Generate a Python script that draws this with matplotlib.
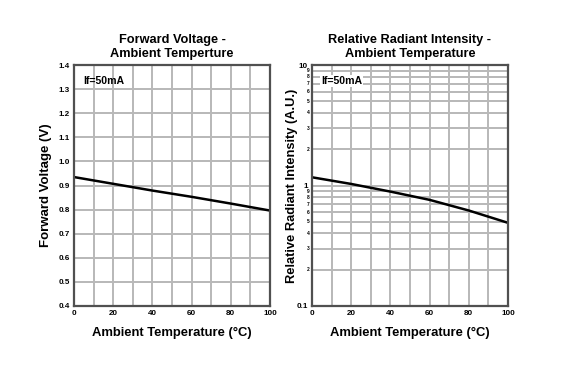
import numpy as np
import matplotlib
matplotlib.use("Agg")
import matplotlib.pyplot as plt
from matplotlib.ticker import FixedLocator, NullFormatter

plt.rcParams["font.family"] = ["Liberation Sans", "DejaVu Sans"]

# data
temp = [0, 20, 40, 60, 80, 100]
vf = [0.935, 0.907, 0.879, 0.853, 0.825, 0.796]
intensity = [1.17, 1.03, 0.89, 0.76, 0.62, 0.49]

GRID = "#b8b8b8"
FRAME = "#505050"


def style_axes(ax):
    for s in ax.spines.values():
        s.set_color(FRAME)
        s.set_linewidth(1.6)
    ax.set_xlim(0, 100)
    ax.set_xticks(range(0, 101, 20))
    ax.xaxis.set_minor_locator(FixedLocator(range(10, 100, 20)))
    ax.grid(True, which="both", axis="x", color=GRID, lw=1.4)
    ax.tick_params(which="both", length=0, labelsize=5.8, pad=3)
    for lab in ax.get_xticklabels() + ax.get_yticklabels():
        lab.set_fontweight("bold")
    ax.set_xlabel("Ambient Temperature (°C)", fontsize=9.4, fontweight="bold", labelpad=7)
    ax.set_axisbelow(True)


fig = plt.figure(figsize=(5.69, 3.65), dpi=100)
ax1 = fig.add_axes([74 / 569, 1 - 306 / 365, 196 / 569, 241 / 365])
ax2 = fig.add_axes([312 / 569, 1 - 306 / 365, 196 / 569, 241 / 365])

# left: forward voltage
ax1.plot(temp, vf, color="black", lw=1.8)
ax1.set_ylim(0.4, 1.4)
ax1.set_yticks(np.arange(0.4, 1.41, 0.1))
ax1.set_yticklabels([f"{v:.1f}" for v in np.arange(0.4, 1.41, 0.1)])
ax1.grid(True, axis="y", color=GRID, lw=1.4)
style_axes(ax1)
ax1.set_ylabel("Forward Voltage (V)", fontsize=9.5, fontweight="bold", labelpad=5)
ax1.set_title("Forward Voltage -\nAmbient Temperture", fontsize=9.2, fontweight="bold",
              linespacing=1.15, pad=6)
ax1.text(0.045, 0.955, "If=50mA", transform=ax1.transAxes, fontsize=7.6, fontweight="bold",
         va="top", ha="left")

# right: relative radiant intensity (log)
ax2.plot(temp, intensity, color="black", lw=1.8)
ax2.set_yscale("log")
ax2.set_ylim(0.1, 10)
ax2.set_yticks([0.1, 1, 10])
ax2.set_yticklabels(["0.1", "1", "10"])
minor = [m * d for d in (0.1, 1) for m in range(2, 10)]
ax2.yaxis.set_minor_locator(FixedLocator(minor))
ax2.yaxis.set_minor_formatter(NullFormatter())
ax2.grid(True, which="both", axis="y", color=GRID, lw=1.4)
style_axes(ax2)
for v in minor:
    ax2.text(-0.012, v, str(int(round(v / (0.1 if v < 1 else 1)))), transform=ax2.get_yaxis_transform(),
             fontsize=3.5, fontweight="bold", ha="right", va="center")
ax2.set_ylabel("Relative Radiant Intensity (A.U.)", fontsize=9.3, fontweight="bold", labelpad=-1)
ax2.set_title("Relative Radiant Intensity -\nAmbient Temperature", fontsize=9.2,
              fontweight="bold", linespacing=1.15, pad=6)
ax2.text(0.045, 0.955, "If=50mA", transform=ax2.transAxes, fontsize=7.6, fontweight="bold",
         va="top", ha="left", bbox=dict(facecolor="white", edgecolor="none", pad=0.5))

fig.savefig("out.png", dpi=100)
